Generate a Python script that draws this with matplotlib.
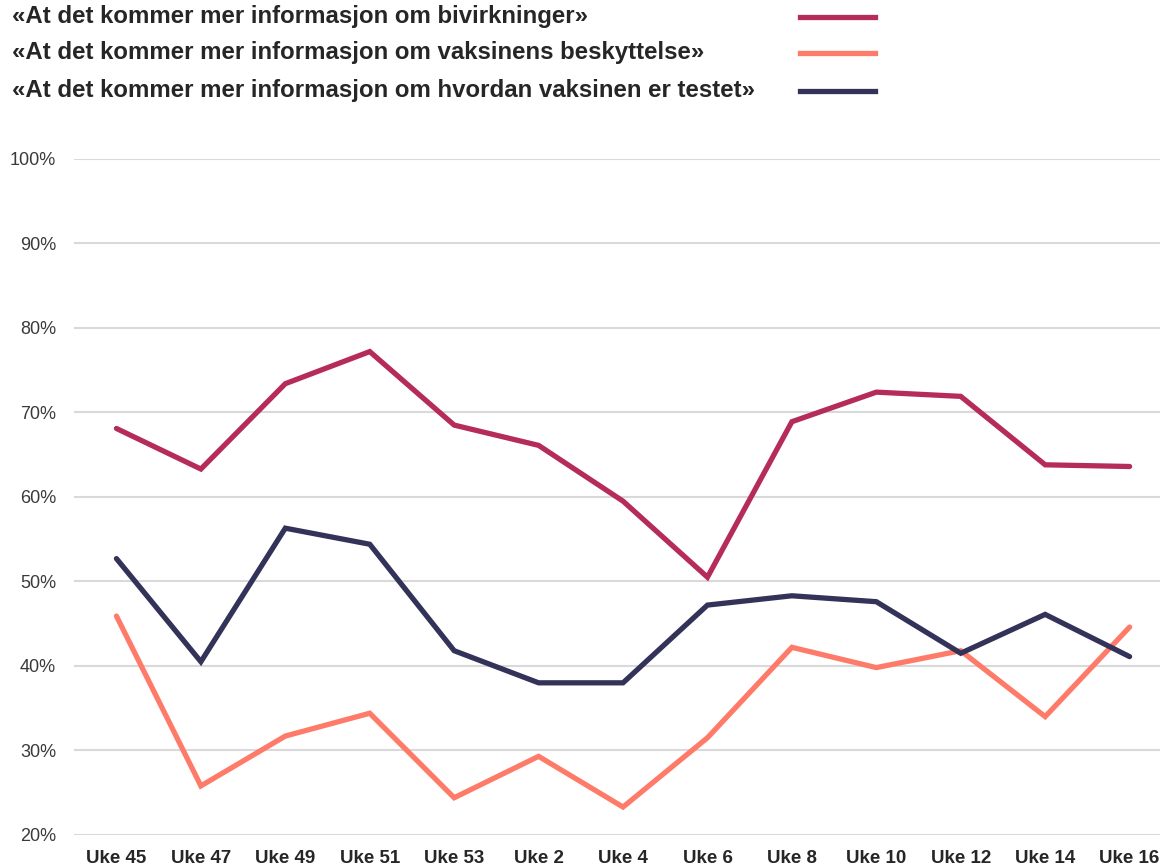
import matplotlib.pyplot as plt
from matplotlib.lines import Line2D

plt.rcParams['font.family'] = ['Liberation Sans', 'DejaVu Sans']

# Uker i undersøkelsen
uker = ['Uke 45', 'Uke 47', 'Uke 49', 'Uke 51', 'Uke 53', 'Uke 2', 'Uke 4',
        'Uke 6', 'Uke 8', 'Uke 10', 'Uke 12', 'Uke 14', 'Uke 16']

# Andel (%) per uke
bivirkninger = [68.1, 63.3, 73.4, 77.2, 68.5, 66.1, 59.5, 50.5, 68.9, 72.4, 71.9, 63.8, 63.6]
beskyttelse = [45.9, 25.8, 31.7, 34.4, 24.4, 29.3, 23.3, 31.5, 42.2, 39.8, 41.8, 34.0, 44.6]
testet = [52.7, 40.5, 56.3, 54.4, 41.8, 38.0, 38.0, 47.2, 48.3, 47.6, 41.5, 46.1, 41.1]

etiketter = ['«At det kommer mer informasjon om bivirkninger»',
             '«At det kommer mer informasjon om vaksinens beskyttelse»',
             '«At det kommer mer informasjon om hvordan vaksinen er testet»']
farger = ['#B52B5A', '#FF7B69', '#33335A']

fig = plt.figure(figsize=(11.6, 8.67), dpi=100)
ax = fig.add_axes([0.064, 0.037, 0.936, 0.7797])

x = range(len(uker))
for serie, farge in zip([bivirkninger, beskyttelse, testet], farger):
    ax.plot(x, serie, color=farge, linewidth=3.8, solid_capstyle='round',
            solid_joinstyle='miter', zorder=3)

ax.set_ylim(20, 100)
ax.set_xlim(-0.5, 12.36)
ax.set_yticks(range(20, 101, 10))
ax.set_yticklabels([f'{v}%' for v in range(20, 101, 10)], fontsize=13, color='#3a3a3a')
ax.set_xticks(list(x))
ax.set_xticklabels(uker, fontsize=13.5, fontweight='bold', color='#262626')
ax.tick_params(axis='both', length=0)
ax.tick_params(axis='y', pad=13)
ax.tick_params(axis='x', pad=11)
ax.grid(axis='y', color='#D9D9D9', linewidth=1.5)
ax.set_axisbelow(True)
for s in ax.spines.values():
    s.set_visible(False)

# Forklaring øverst
H = 867
for i, (tekst, farge) in enumerate(zip(etiketter, farger)):
    ypix = [17, 53, 91][i]
    yf = 1 - ypix / H
    fig.text(12 / 1160, yf, tekst, fontsize=17.3, fontweight='bold',
             color='#262626', ha='left', va='center')
    fig.add_artist(Line2D([800 / 1160, 875 / 1160], [yf, yf], color=farge,
                          linewidth=3.8, transform=fig.transFigure))

fig.savefig('out.png', dpi=100)
